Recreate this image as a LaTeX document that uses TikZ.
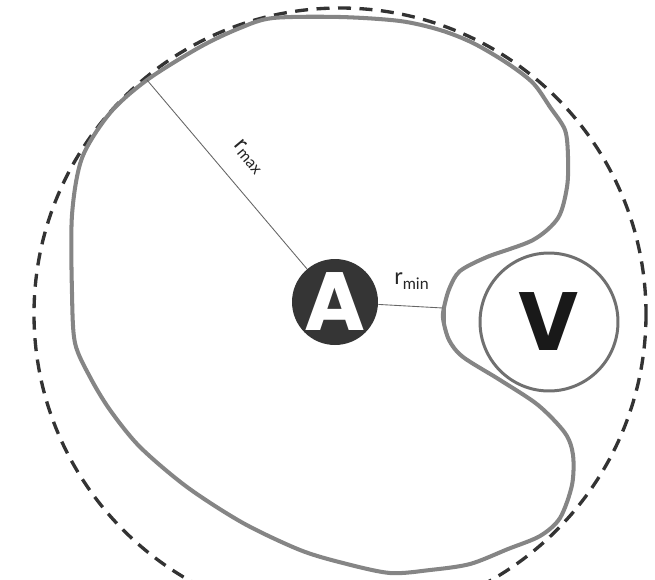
\documentclass[tikz,border=0pt]{standalone}
\usepackage{fontspec}
\setmainfont{Lato}
\newfontfamily\letterfont{Poppins}
\usepackage{xcolor}
\usepackage{tikz}
\usetikzlibrary{positioning}

\definecolor{contourgray}{HTML}{858585}
\definecolor{ringgray}{HTML}{707070}
\definecolor{agentfill}{HTML}{353535}

\begin{document}
\begin{tikzpicture}[
    x=0.02cm, y=-0.02cm,
    agent/.style={circle, fill=agentfill, minimum size=1.72cm, inner sep=0pt,
                  text=white, font=\letterfont\bfseries\fontsize{47}{47}\selectfont},
    victim/.style={circle, draw=ringgray, line width=1.7pt, minimum size=2.76cm,
                   inner sep=0pt, text=black!90,
                   font=\letterfont\bfseries\fontsize{47}{47}\selectfont},
    contour/.style={draw=contourgray, line width=2.3pt, line join=round},
    rangering/.style={draw=black!80, line width=1.9pt, dash pattern=on 0.26cm off 0.17cm},
    radline/.style={draw=black!60, line width=0.5pt},
    rlabel/.style={font=\fontsize{13}{13}\selectfont, text=black!85, inner sep=1pt},
]
\useasboundingbox (0,0) rectangle (655,579);

% Outer dashed range circle
\draw[rangering] (340,314) circle[radius=306];

% Reachable contour around A, dented by V
\draw[contour] plot[smooth cycle, tension=0.5] coordinates {
    (443,318) (445,303) (450,287) (460,271) (487,257) (533,240) (558,218)
    (567,187) (568,157) (565,130) (550,107) (533,83) (507,63) (473,43)
    (440,30) (400,21) (340,17) (273,18) (240,28) (200,47) (147,80)
    (110,113) (82,158) (72,215) (72,293) (75,343) (90,377) (110,410)
    (140,447) (187,487) (243,523) (300,550) (343,563) (390,573) (430,570)
    (470,564) (508,549) (540,536) (560,518) (572,485) (573,455) (565,433)
    (538,405) (500,380) (463,357) (449,340)};
\draw[contour, line width=2.8pt] (444,309) -- (444,325);

% Agent and obstacle
\node[agent] (A) at (335,302) {A};
\node[victim] (V) at (549,322) {V};

% Radii
\coordinate (rmaxend) at (147,80);
\coordinate (rminend) at (443,308);
\draw[radline] (A) -- (rmaxend);
\draw[radline] (A) -- (rminend);
\node[rlabel, rotate=-50] (rmaxlab) at (249,157) {r\textsubscript{max}};
\node[rlabel] (rminlab) at (412,281) {r\textsubscript{min}};

\end{tikzpicture}
\end{document}
